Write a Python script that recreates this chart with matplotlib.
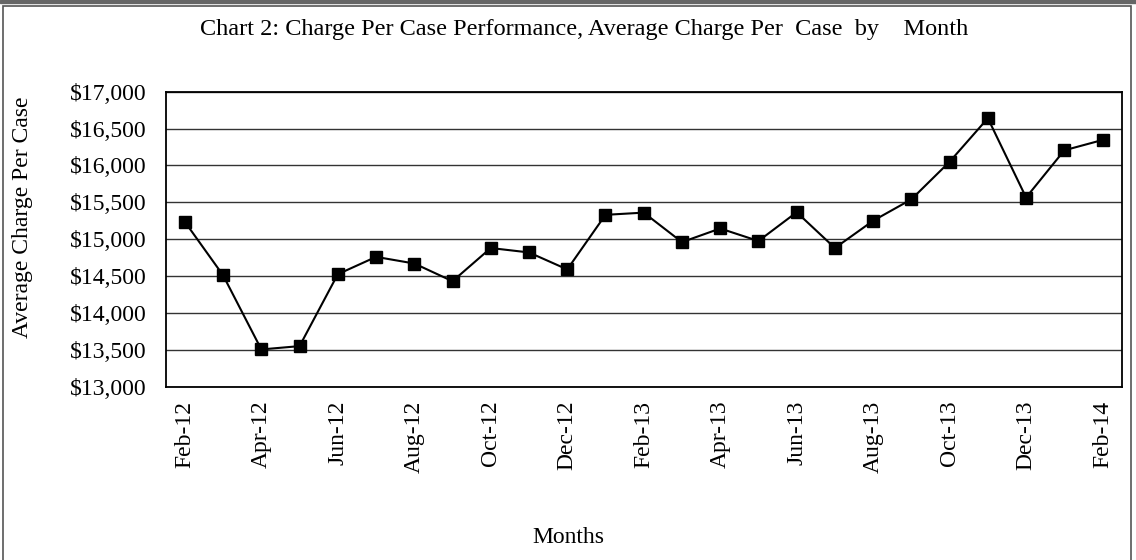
import matplotlib.pyplot as plt
from matplotlib.patches import Rectangle

# Monthly average charge per case, Feb-12 .. Feb-14
months = ['Feb-12', 'Mar-12', 'Apr-12', 'May-12', 'Jun-12', 'Jul-12', 'Aug-12', 'Sep-12',
          'Oct-12', 'Nov-12', 'Dec-12', 'Jan-13', 'Feb-13', 'Mar-13', 'Apr-13', 'May-13',
          'Jun-13', 'Jul-13', 'Aug-13', 'Sep-13', 'Oct-13', 'Nov-13', 'Dec-13', 'Jan-14', 'Feb-14']
charge = [15235, 14510, 13505, 13550, 14525, 14760, 14670, 14430,
          14880, 14820, 14590, 15330, 15360, 14960, 15145, 14975,
          15365, 14880, 15250, 15540, 16050, 16640, 15565, 16205, 16345]
y_ticks = [13000, 13500, 14000, 14500, 15000, 15500, 16000, 16500, 17000]

plt.rcParams['font.family'] = ['Liberation Serif', 'DejaVu Serif']

fig = plt.figure(figsize=(11.36, 5.6), dpi=100)
ax = fig.add_axes([0.1459, 0.3095, 0.8415, 0.5268])

x = list(range(len(months)))
ax.plot(x, charge, color='black', linewidth=1.5, marker='s', markersize=9, zorder=3)

ax.set_xlim(-0.5, len(months) - 0.5)
ax.set_ylim(13000, 17000)
ax.set_yticks(y_ticks)
ax.set_yticklabels([f'${v:,}' for v in y_ticks], fontsize=17)
ax.set_xticks(x[::2])
ax.set_xticklabels(months[::2], rotation=90, fontsize=17)
ax.tick_params(axis='y', length=0, pad=14)
ax.tick_params(axis='x', length=0, pad=10)
ax.yaxis.grid(True, color='#333333', linewidth=1)
ax.set_axisbelow(True)
for sp in ax.spines.values():
    sp.set_linewidth(1.3)
    sp.set_color('black')

fig.text(0.0195, 0.6125, 'Average Charge Per Case', rotation=90,
         ha='center', va='center', fontsize=17)
fig.text(0.514, 0.947, 'Chart 2: Charge Per Case Performance, Average Charge Per  Case  by    Month',
         ha='center', va='center', fontsize=17.5)
fig.text(0.5, 0.041, 'Months', ha='center', va='center', fontsize=17)

# outer frame around the chart
fig.patches.append(Rectangle((0.003, -0.01), 0.993, 1.0, transform=fig.transFigure,
                             fill=False, edgecolor='#555555', linewidth=1.2))
fig.patches.append(Rectangle((0.0, 0.995), 1.0, 0.005, transform=fig.transFigure,
                             color='#666666'))

fig.savefig('out.png', dpi=100)
